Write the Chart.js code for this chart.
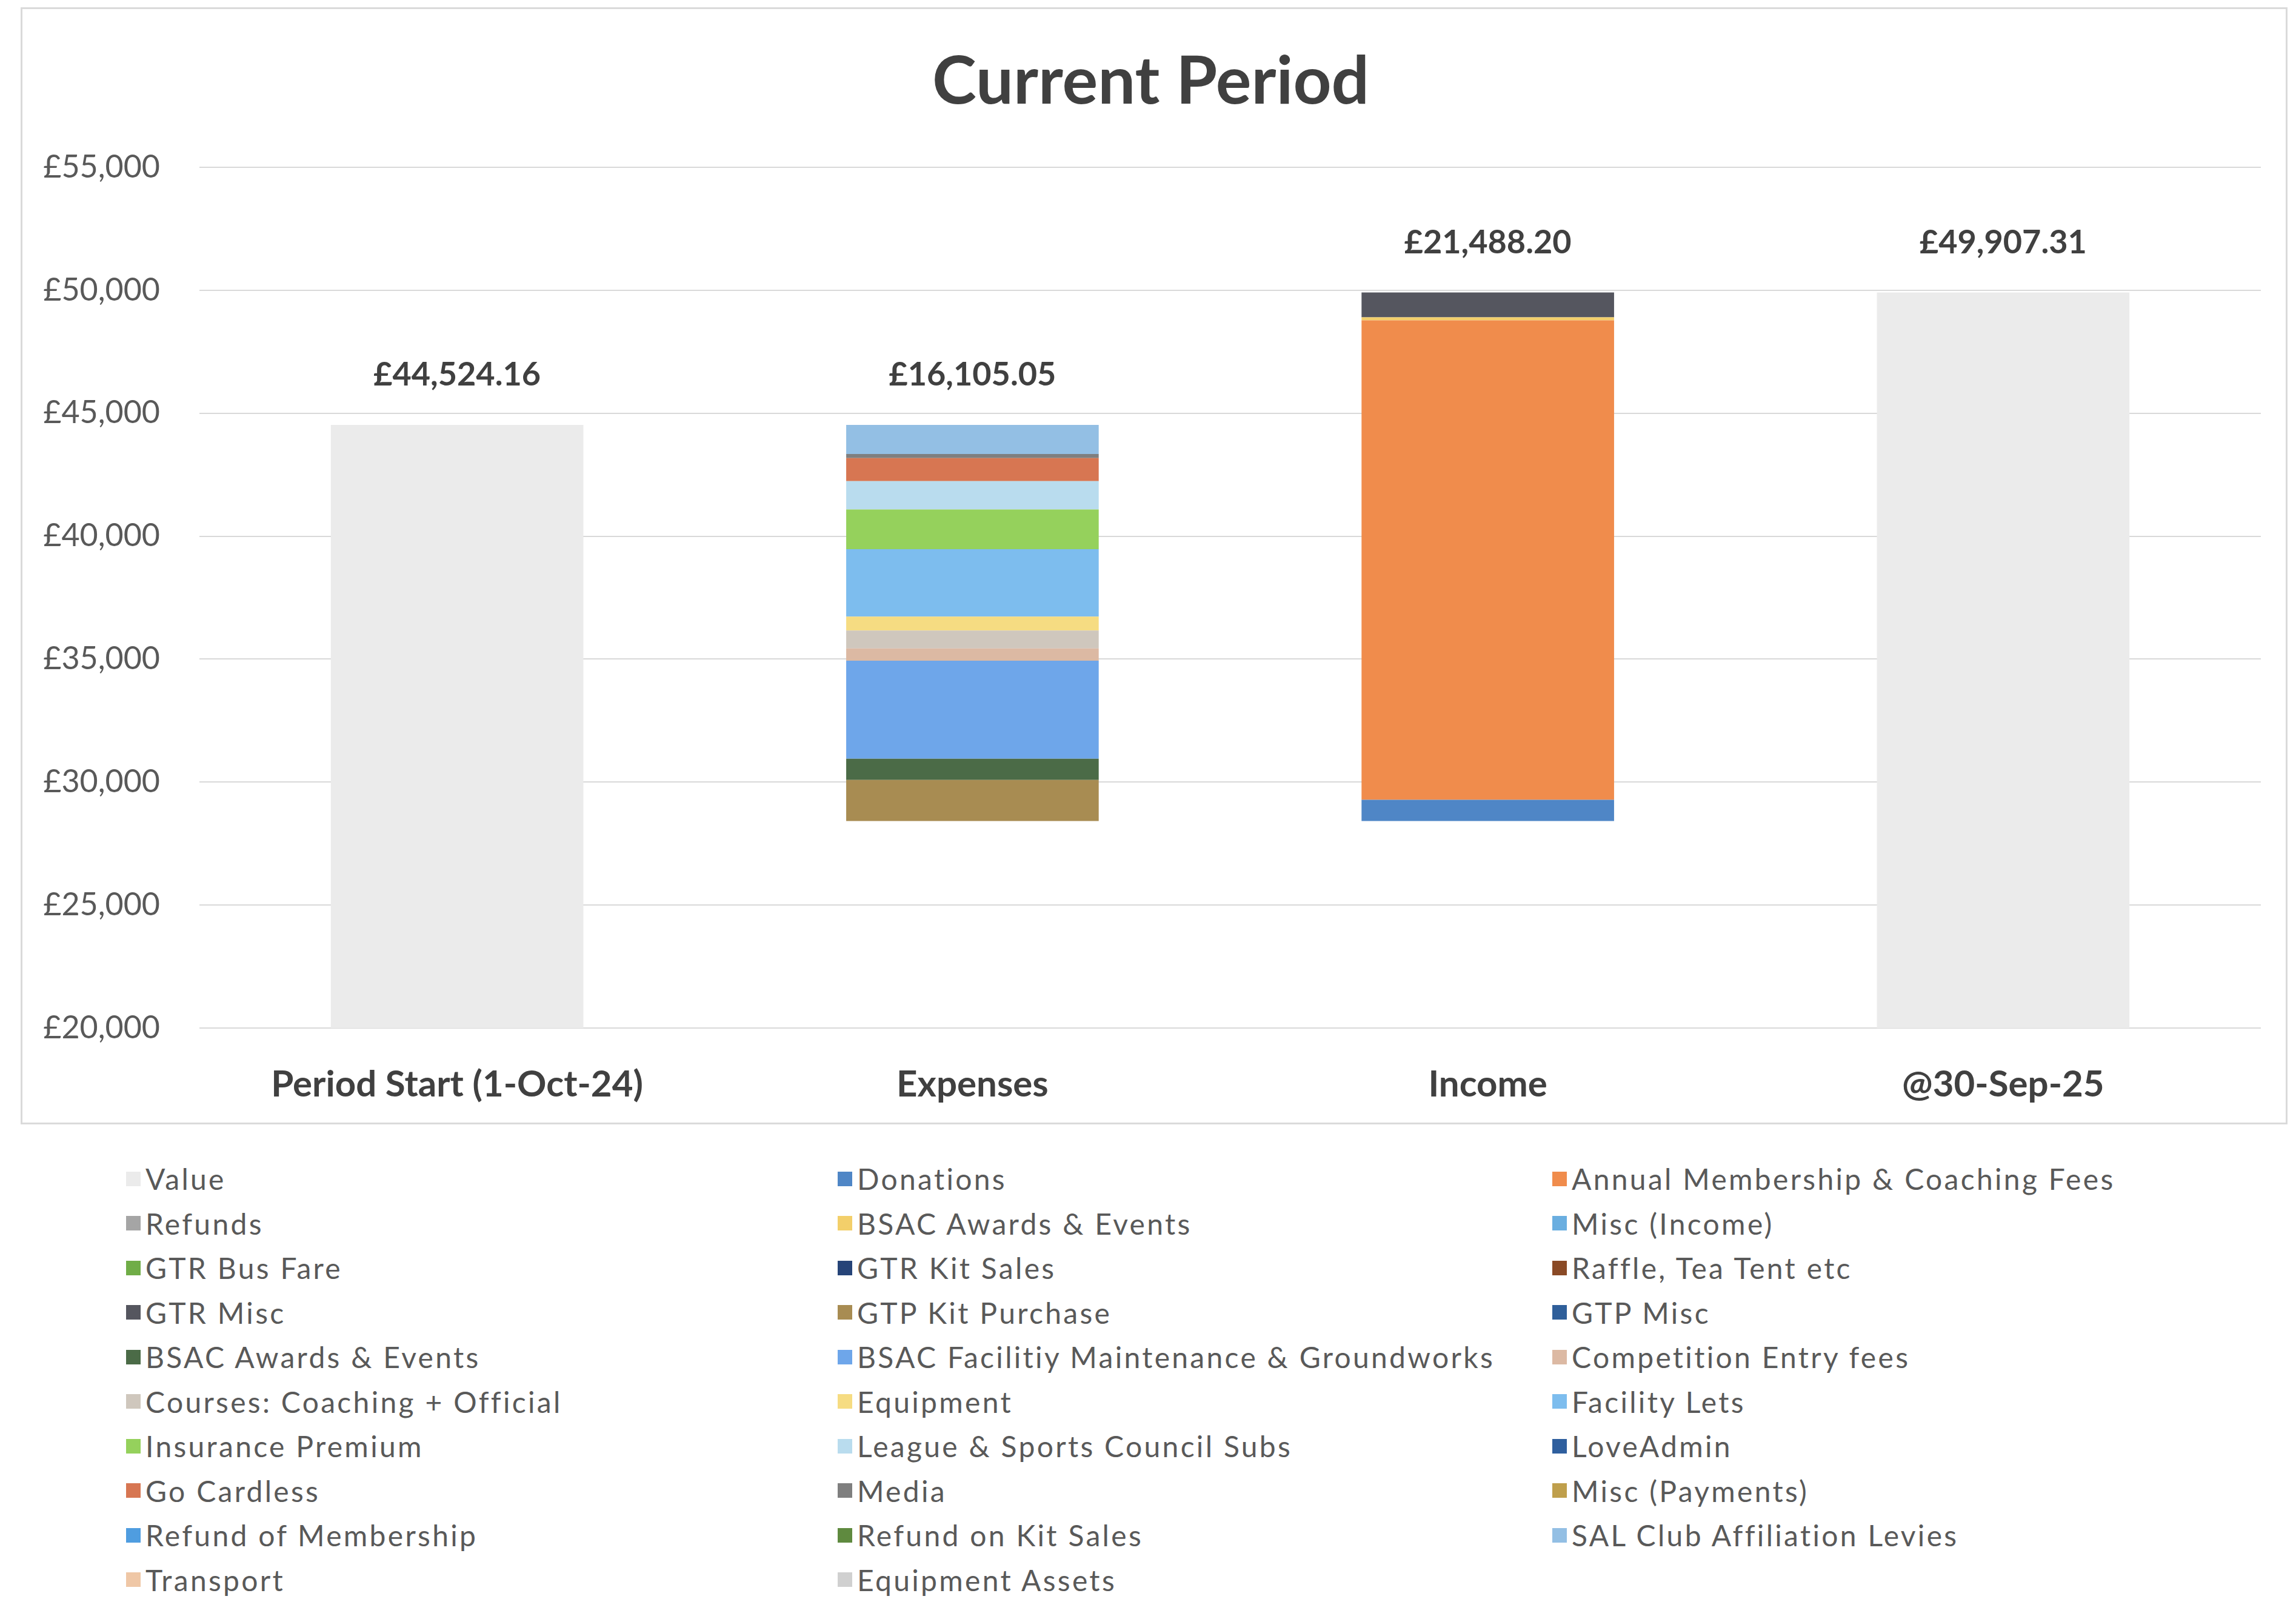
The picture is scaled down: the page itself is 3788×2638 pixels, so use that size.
<!DOCTYPE html>
<html lang="en">
<head>
    <meta charset="UTF-8">
    <title>Current Period</title>
    <script src="https://cdn.jsdelivr.net/npm/chart.js"></script>
    <style>
        html, body {
            margin: 0;
            padding: 0;
            background: #fff;
        }

        body {
            width: 3788px;
            height: 2638px;
            position: relative;
            overflow: hidden;
            font-family: Lato, 'Open Sans', sans-serif;
        }

        .chart-frame {
            position: absolute;
            left: 34px;
            top: 12px;
            width: 3740px;
            height: 1843px;
            border: 3px solid #dadada;
            box-sizing: border-box;
        }

        .legend {
            position: absolute;
            left: 208px;
            top: 1908px;
            display: grid;
            grid-template-columns: 1174px 1179px 1000px;
            grid-auto-rows: 73.5px;
        }

        .legend-item {
            display: flex;
            align-items: center;
            font-size: 48px;
            letter-spacing: 3.3px;
            color: #595959;
            white-space: nowrap;
        }

        .legend-item .swatch {
            width: 24px;
            height: 24px;
            margin-right: 8px;
            flex: none;
        }
    </style>
</head>
<body>
    <div class="chart-frame"><canvas id="periodChart"></canvas></div>
    <div class="legend" id="legend"></div>

    <script>
        const categories = ['Period Start (1-Oct-24)', 'Expenses', 'Income', '@30-Sep-25'];

        // opening / closing balances ("Value" series)
        const balanceValues = [44524.16, null, null, 49907.31];
        const balanceColor = '#ebebeb';

        const incomeNames = ['Donations', 'Annual Membership & Coaching Fees', 'Refunds', 'BSAC Awards & Events',
            'Misc (Income)', 'GTR Bus Fare', 'GTR Kit Sales', 'Raffle, Tea Tent etc', 'GTR Misc'];
        const incomeAmounts = [860, 19498.20, 0, 120, 0, 0, 0, 0, 1010];
        const incomeColors = ['#4f86c6', '#f08c4c', '#a5a5a5', '#f3cf6a', '#6aaee0', '#70ad47',
            '#264478', '#8a4a26', '#55565f'];

        const expenseNames = ['GTP Kit Purchase', 'GTP Misc', 'BSAC Awards & Events',
            'BSAC Facilitiy Maintenance & Groundworks', 'Competition Entry fees', 'Courses: Coaching + Official',
            'Equipment', 'Facility Lets', 'Insurance Premium', 'League & Sports Council Subs', 'LoveAdmin',
            'Go Cardless', 'Media', 'Misc (Payments)', 'Refund of Membership', 'Refund on Kit Sales',
            'SAL Club Affiliation Levies', 'Transport', 'Equipment Assets'];
        const expenseAmounts = [1670.05, 0, 860, 3985, 500, 730, 565, 2740, 1620, 1150, 0,
            935, 170, 0, 0, 0, 1180, 0, 0];
        const expenseColors = ['#a88c52', '#2f5f9a', '#4b6b47', '#6ea6ea', '#dcb9a3', '#cfc7bd',
            '#f6dc82', '#7dbdee', '#95d15c', '#b9dcee', '#2f5f9e', '#d77652', '#7f7f7f', '#bf9f4c',
            '#4f9de0', '#5f8a3f', '#93bfe4', '#efc7a6', '#d0d0d0'];

        const yMin = 20000;
        const yMax = 55000;
        const yStep = 5000;

        const sum = arr => arr.reduce((a, b) => a + b, 0);
        const expenseTotal = Math.round(sum(expenseAmounts) * 100) / 100;
        const incomeTotal = Math.round(sum(incomeAmounts) * 100) / 100;
        const floorValue = balanceValues[0] - expenseTotal;
        const totals = [balanceValues[0], expenseTotal, incomeTotal, balanceValues[3]];

        const money = (v, dp) => '£' + v.toLocaleString('en-GB', {
            minimumFractionDigits: dp, maximumFractionDigits: dp
        });

        const datasets = [{
            label: 'base',
            data: [null, floorValue, floorValue, null],
            backgroundColor: 'rgba(0,0,0,0)'
        }, {
            label: 'Value',
            data: balanceValues,
            backgroundColor: balanceColor
        }];
        incomeNames.forEach((name, i) => {
            datasets.push({ label: name, data: [null, null, incomeAmounts[i], null], backgroundColor: incomeColors[i] });
        });
        expenseNames.forEach((name, i) => {
            datasets.push({ label: name, data: [null, expenseAmounts[i], null, null], backgroundColor: expenseColors[i] });
        });

        // total above each column
        const totalLabels = {
            id: 'totalLabels',
            afterDatasetsDraw(chart) {
                const ctx = chart.ctx;
                ctx.save();
                ctx.font = 'bold 54px Lato';
                ctx.fillStyle = '#404040';
                ctx.textAlign = 'center';
                ctx.textBaseline = 'middle';
                categories.forEach((c, idx) => {
                    let top = null, x = null;
                    chart.data.datasets.forEach((ds, di) => {
                        const v = ds.data[idx];
                        if (di === 0 || !v) return;
                        const el = chart.getDatasetMeta(di).data[idx];
                        if (top === null || el.y < top) { top = el.y; x = el.x; }
                    });
                    if (top !== null) ctx.fillText(money(totals[idx], 2), x, top - 82);
                });
                ctx.restore();
            }
        };

        const ctx = document.getElementById('periodChart').getContext('2d');
        const chart = new Chart(ctx, {
            type: 'bar',
            data: { labels: categories, datasets: datasets },
            options: {
                responsive: true,
                maintainAspectRatio: false,
                animation: false,
                layout: { padding: { left: 30, right: 41, top: 0, bottom: 0 } },
                datasets: {
                    bar: { categoryPercentage: 1, barPercentage: 0.49, borderWidth: 0 }
                },
                scales: {
                    x: {
                        stacked: true,
                        grid: { display: false, drawTicks: false },
                        border: { display: false },
                        afterFit: scale => { scale.height = 156; },
                        ticks: { color: '#404040', padding: 58, font: { family: 'Lato', size: 60, weight: 'bold' } }
                    },
                    y: {
                        stacked: true,
                        min: yMin,
                        max: yMax,
                        border: { display: false },
                        grid: { color: '#d9d9d9', lineWidth: 2, drawTicks: false },
                        afterFit: scale => { scale.width = 262; },
                        ticks: {
                            stepSize: yStep,
                            padding: 65,
                            color: '#595959',
                            font: { family: 'Lato', size: 52 },
                            callback: v => money(v, 0)
                        }
                    }
                },
                plugins: {
                    legend: { display: false },
                    tooltip: { enabled: false },
                    title: {
                        display: true,
                        text: 'Current Period',
                        color: '#404040',
                        font: { family: 'Lato', size: 110, weight: 'bold' },
                        padding: { top: 55, bottom: 74 }
                    }
                }
            },
            plugins: [totalLabels]
        });

        // legend in three columns, built from the chart's own legend items
        const legendBox = document.getElementById('legend');
        Chart.defaults.plugins.legend.labels.generateLabels(chart)
            .filter(item => item.text !== 'base')
            .forEach(item => {
                const row = document.createElement('div');
                row.className = 'legend-item';
                const sw = document.createElement('span');
                sw.className = 'swatch';
                sw.style.background = item.fillStyle;
                row.appendChild(sw);
                row.appendChild(document.createTextNode(item.text));
                legendBox.appendChild(row);
            });
    </script>
</body>
</html>
